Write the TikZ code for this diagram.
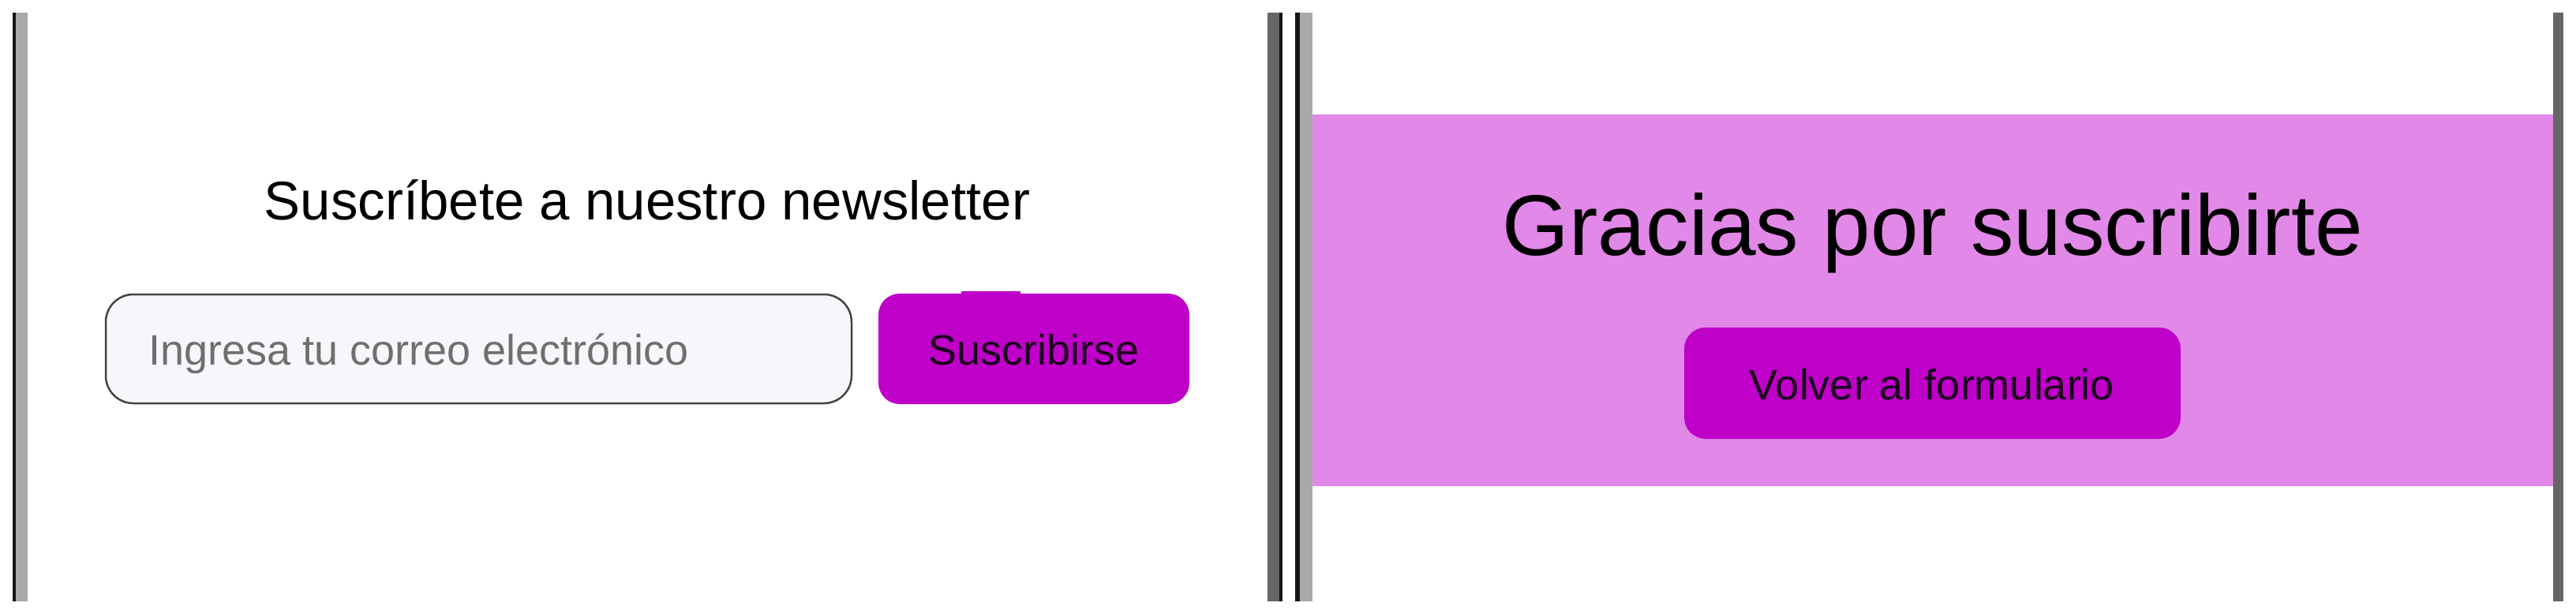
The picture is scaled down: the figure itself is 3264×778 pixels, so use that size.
\documentclass[tikz,border=0pt]{standalone}
\usepackage{fontspec}
\setmainfont{Liberation Sans}
\definecolor{barblack}{HTML}{151515}
\definecolor{barlight}{HTML}{A9A9A9}
\definecolor{bardark}{HTML}{666666}
\definecolor{pinkband}{HTML}{E288E8}
\definecolor{btnpurple}{HTML}{BF00C9}
\definecolor{inputfill}{HTML}{F7F7FB}
\definecolor{inputborder}{HTML}{444444}
\definecolor{placeholder}{HTML}{6F6F6F}
\definecolor{labeldark}{HTML}{1A001C}
\tikzset{
  txt/.style={inner sep=0pt, outer sep=0pt, anchor=base},
  btnfill/.style={fill=btnpurple, draw=none},
}
\begin{document}
\begin{tikzpicture}[x=1pt,y=-1pt]
\useasboundingbox[fill=white] (0,0) rectangle (3264,778);
% frame bars
\fill[barblack] (16,16) rectangle (20,762);
\fill[barlight] (20,16) rectangle (35,762);
\fill[bardark] (1606,16) rectangle (1621,762);
\fill[barblack] (1621,16) rectangle (1625,762);
\fill[barblack] (1641,16) rectangle (1647,762);
\fill[barlight] (1647,16) rectangle (1663,762);
\fill[bardark] (3235,16) rectangle (3248,762);
% pink band
\fill[pinkband] (1663,145) rectangle (3235,616);
% left pane
\node[txt] (title) at (820,279) {\fontsize{69}{74}\selectfont Suscríbete a nuestro newsletter};
\draw[fill=inputfill, draw=inputborder, line width=2.5pt, rounded corners=35pt] (134,373) rectangle (1079,511);
\node[txt, anchor=base west, text=placeholder] (ph) at (188,462) {\fontsize{54}{58}\selectfont Ingresa tu correo electrónico};
\fill[btnpurple, rounded corners=27pt] (1113,372) rectangle (1507,512);
\fill[btnpurple] (1218,369) rectangle (1293,374);
\node[txt, text=labeldark] (sub) at (1310,462) {\fontsize{54}{58}\selectfont Suscribirse};
% right pane
\node[txt] (thanks) at (2449,323) {\fontsize{109}{115}\selectfont Gracias por suscribirte};
\fill[btnpurple, rounded corners=27pt] (2134,415) rectangle (2763,556);
\node[txt, text=labeldark] (back) at (2448,506) {\fontsize{54}{58}\selectfont Volver al formulario};
\end{tikzpicture}
\end{document}
